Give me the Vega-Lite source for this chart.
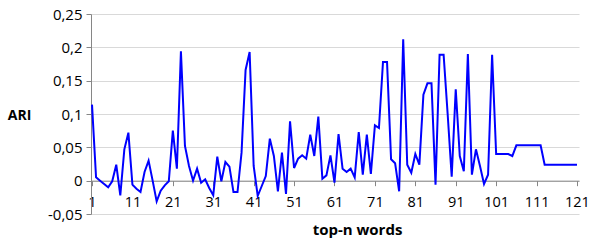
{
  "$schema": "https://vega.github.io/schema/vega-lite/v6.json",
  "width": 488,
  "height": 200,
  "autosize": {"type": "none"},
  "padding": {"left": 91, "top": 14, "right": 13, "bottom": 27},
  "background": "white",
  "config": {"view": {"stroke": null}, "font": "Open Sans"},
  "data": {"values": [
    {"n":1,"ari":0.114},{"n":2,"ari":0.005},{"n":3,"ari":0.0},{"n":4,"ari":-0.005},{"n":5,"ari":-0.01},
    {"n":6,"ari":-0.001},{"n":7,"ari":0.024},{"n":8,"ari":-0.022},{"n":9,"ari":0.047},{"n":10,"ari":0.072},
    {"n":11,"ari":-0.006},{"n":12,"ari":-0.012},{"n":13,"ari":-0.017},{"n":14,"ari":0.013},{"n":15,"ari":0.03},
    {"n":16,"ari":0.0},{"n":17,"ari":-0.031},{"n":18,"ari":-0.015},{"n":19,"ari":-0.007},{"n":20,"ari":-0.001},
    {"n":21,"ari":0.075},{"n":22,"ari":0.018},{"n":23,"ari":0.194},{"n":24,"ari":0.052},{"n":25,"ari":0.022},
    {"n":26,"ari":0.0},{"n":27,"ari":0.018},{"n":28,"ari":-0.003},{"n":29,"ari":0.002},{"n":30,"ari":-0.011},
    {"n":31,"ari":-0.022},{"n":32,"ari":0.036},{"n":33,"ari":-0.001},{"n":34,"ari":0.028},{"n":35,"ari":0.021},
    {"n":36,"ari":-0.017},{"n":37,"ari":-0.017},{"n":38,"ari":0.042},{"n":39,"ari":0.166},{"n":40,"ari":0.193},
    {"n":41,"ari":0.022},{"n":42,"ari":-0.023},{"n":43,"ari":-0.008},{"n":44,"ari":0.007},{"n":45,"ari":0.063},
    {"n":46,"ari":0.037},{"n":47,"ari":-0.016},{"n":48,"ari":0.042},{"n":49,"ari":-0.02},{"n":50,"ari":0.089},
    {"n":51,"ari":0.019},{"n":52,"ari":0.033},{"n":53,"ari":0.038},{"n":54,"ari":0.033},{"n":55,"ari":0.069},
    {"n":56,"ari":0.037},{"n":57,"ari":0.096},{"n":58,"ari":0.003},{"n":59,"ari":0.008},{"n":60,"ari":0.038},
    {"n":61,"ari":-0.003},{"n":62,"ari":0.07},{"n":63,"ari":0.018},{"n":64,"ari":0.013},{"n":65,"ari":0.018},
    {"n":66,"ari":0.005},{"n":67,"ari":0.073},{"n":68,"ari":0.009},{"n":69,"ari":0.069},{"n":70,"ari":0.01},
    {"n":71,"ari":0.083},{"n":72,"ari":0.079},{"n":73,"ari":0.178},{"n":74,"ari":0.178},{"n":75,"ari":0.032},
    {"n":76,"ari":0.026},{"n":77,"ari":-0.016},{"n":78,"ari":0.212},{"n":79,"ari":0.024},{"n":80,"ari":0.012},
    {"n":81,"ari":0.04},{"n":82,"ari":0.024},{"n":83,"ari":0.129},{"n":84,"ari":0.146},{"n":85,"ari":0.146},
    {"n":86,"ari":-0.006},{"n":87,"ari":0.189},{"n":88,"ari":0.189},{"n":89,"ari":0.1},{"n":90,"ari":0.006},
    {"n":91,"ari":0.137},{"n":92,"ari":0.037},{"n":93,"ari":0.014},{"n":94,"ari":0.19},{"n":95,"ari":0.009},
    {"n":96,"ari":0.047},{"n":97,"ari":0.022},{"n":98,"ari":-0.005},{"n":99,"ari":0.009},{"n":100,"ari":0.189},
    {"n":101,"ari":0.04},{"n":102,"ari":0.04},{"n":103,"ari":0.04},{"n":104,"ari":0.04},{"n":105,"ari":0.037},
    {"n":106,"ari":0.053},{"n":107,"ari":0.053},{"n":108,"ari":0.053},{"n":109,"ari":0.053},{"n":110,"ari":0.053},
    {"n":111,"ari":0.053},{"n":112,"ari":0.053},{"n":113,"ari":0.024},{"n":114,"ari":0.024},{"n":115,"ari":0.024},
    {"n":116,"ari":0.024},{"n":117,"ari":0.024},{"n":118,"ari":0.024},{"n":119,"ari":0.024},{"n":120,"ari":0.024},
    {"n":121,"ari":0.024}
  ]},
  "mark": {"type": "line", "color": "#0000ff", "strokeWidth": 2, "interpolate": "linear"},
  "encoding": {
    "x": {
      "field": "n", "type": "quantitative",
      "scale": {"domain": [0.75, 121.5], "nice": false, "zero": false},
      "axis": {
        "values": [1, 11, 21, 31, 41, 51, 61, 71, 81, 91, 101, 111, 121],
        "format": "d",
        "grid": false,
        "offset": -33.33,
        "domainColor": "#868686",
        "tickColor": "#868686",
        "tickSize": 5,
        "labelFontSize": 14.5,
        "labelColor": "#000000",
        "labelPadding": 10,
        "labelFlush": false,
        "title": "top-n words",
        "titleFontSize": 15,
        "titleFontWeight": "bold",
        "titleColor": "#000000",
        "titleX": 266,
        "titleY": 42,
        "titleAlign": "center",
        "titleBaseline": "top"
      }
    },
    "y": {
      "field": "ari", "type": "quantitative",
      "scale": {"domain": [-0.05, 0.25], "nice": false, "zero": false},
      "axis": {
        "values": [-0.05, 0, 0.05, 0.1, 0.15, 0.2, 0.25],
        "labelExpr": "datum.value < -0.000001 ? '-' + replace(format(-datum.value, '.2~f'), '.', ',') : replace(format(abs(datum.value) < 0.000001 ? 0 : datum.value, '.2~f'), '.', ',')",
        "grid": true,
        "gridColor": "#d9d9d9",
        "gridWidth": 1,
        "domainColor": "#868686",
        "tickColor": "#868686",
        "tickSize": 5,
        "labelFontSize": 15,
        "labelColor": "#000000",
        "labelPadding": 4,
        "title": "ARI",
        "titleAngle": 0,
        "titleFontSize": 14,
        "titleFontWeight": "bold",
        "titleColor": "#000000",
        "titleX": -72,
        "titleY": 101,
        "titleAlign": "center",
        "titleBaseline": "middle"
      }
    }
  }
}
